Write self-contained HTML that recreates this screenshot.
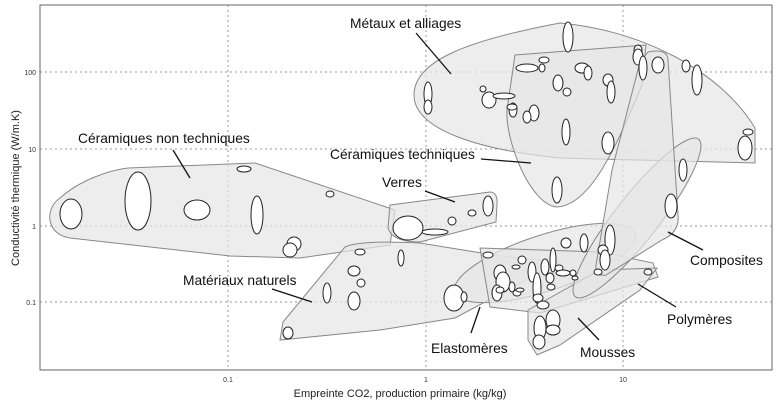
<!DOCTYPE html>
<html><head><meta charset="utf-8"><style>
html,body{margin:0;padding:0;background:#fff;}
svg{display:block;font-family:"Liberation Sans",sans-serif;}
</style></head><body>
<svg width="777" height="406" viewBox="0 0 777 406" xmlns="http://www.w3.org/2000/svg">
<rect x="0" y="0" width="777" height="406" fill="#fff"/>
<g stroke="#999" stroke-dasharray="2,3" stroke-width="1">
<line x1="228" y1="5" x2="228" y2="370"/><line x1="426" y1="5" x2="426" y2="370"/><line x1="623" y1="5" x2="623" y2="370"/>
<line x1="40" y1="72" x2="772" y2="72"/><line x1="40" y1="149" x2="772" y2="149"/><line x1="40" y1="226" x2="772" y2="226"/><line x1="40" y1="302" x2="772" y2="302"/>
</g>
<g fill="#e6e6e6" fill-opacity="0.7" stroke="#888" stroke-width="1">
<path d="M60,198 C80,180 110,170 128,168 L255,163 L395,210 L390,245 L300,258 L230,256 L70,238 C45,234 45,208 60,198 Z"/>
<path d="M280,340 L283,322 L345,247 Q360,240 420,243 L500,256 L560,262 L455,318 L380,330 Z"/>
<path d="M414,95 C414,60 470,40 560,23 C640,30 720,70 755,128 L755,163 L560,158 C480,150 414,130 414,95 Z"/>
<path d="M515,55 L646,45 L642,85 C615,150 590,205 557,207 C530,205 505,140 507,110 Z"/>
<path d="M390,205 L490,192 Q498,192 497,205 L496,222 L420,242 Q392,242 388,228 Z"/>
<ellipse cx="545" cy="263" rx="95" ry="28" transform="rotate(-18 545 263)"/>
<path d="M480,248 L600,252 L653,263 L658,277 L540,313 L490,307 Z"/>
<path d="M528,310 L600,270 L657,268 L640,290 L560,345 L537,355 L528,340 Z"/>
<ellipse cx="637" cy="218" rx="100" ry="22" transform="rotate(-52 637 218)"/>
<path d="M648,52 Q668,48 668,60 L678,215 Q680,232 662,240 L606,275 Q595,277 596,265 L612,170 L640,62 Z"/>
</g>
<g fill="#fff" stroke="#222" stroke-width="1">
<ellipse cx="71" cy="214" rx="11" ry="15"/><ellipse cx="138" cy="201" rx="13" ry="29"/><ellipse cx="197" cy="210" rx="13" ry="10"/><ellipse cx="257" cy="215" rx="6" ry="19"/><ellipse cx="244" cy="169" rx="7" ry="3"/><ellipse cx="330" cy="194" rx="4" ry="3"/><ellipse cx="294" cy="244" rx="7" ry="7"/><ellipse cx="290" cy="250" rx="7" ry="7"/><ellipse cx="360" cy="252" rx="5" ry="3"/><ellipse cx="354" cy="271" rx="6" ry="5"/><ellipse cx="361" cy="283" rx="4" ry="4"/><ellipse cx="327" cy="293" rx="4" ry="10"/><ellipse cx="354" cy="301" rx="6" ry="9"/><ellipse cx="288" cy="333" rx="5" ry="6"/>
<ellipse cx="568" cy="37" rx="5" ry="15"/><ellipse cx="428" cy="94" rx="4" ry="12"/><ellipse cx="428" cy="107" rx="4" ry="7"/><ellipse cx="483" cy="89" rx="3" ry="3"/><ellipse cx="489" cy="100" rx="7" ry="8"/><ellipse cx="504" cy="96" rx="11" ry="3"/><ellipse cx="527" cy="68" rx="11" ry="4"/><ellipse cx="544" cy="60" rx="5" ry="3"/><ellipse cx="542" cy="68" rx="3" ry="4"/><ellipse cx="558" cy="83" rx="5" ry="8"/><ellipse cx="567" cy="92" rx="4" ry="4"/><ellipse cx="513" cy="110" rx="4" ry="7"/><ellipse cx="512" cy="107" rx="5" ry="3"/><ellipse cx="534" cy="113" rx="5" ry="8"/><ellipse cx="527" cy="117" rx="4" ry="6"/><ellipse cx="566" cy="132" rx="4" ry="13"/><ellipse cx="582" cy="68" rx="7" ry="5"/><ellipse cx="588" cy="73" rx="4" ry="7"/><ellipse cx="608" cy="80" rx="5" ry="6"/><ellipse cx="611" cy="92" rx="4" ry="11"/><ellipse cx="638" cy="50" rx="4" ry="5"/><ellipse cx="638" cy="57" rx="5" ry="8"/><ellipse cx="643" cy="68" rx="4" ry="12"/><ellipse cx="658" cy="65" rx="6" ry="8"/><ellipse cx="686" cy="66" rx="4" ry="6"/><ellipse cx="697" cy="80" rx="5" ry="15"/><ellipse cx="748" cy="132" rx="5" ry="3"/><ellipse cx="745" cy="148" rx="7" ry="12"/><ellipse cx="608" cy="143" rx="6" ry="11"/><ellipse cx="557" cy="190" rx="5" ry="13"/><ellipse cx="683" cy="170" rx="4" ry="11"/><ellipse cx="671" cy="206" rx="6" ry="12"/><ellipse cx="488" cy="206" rx="5" ry="10"/><ellipse cx="472" cy="213" rx="4" ry="3"/><ellipse cx="452" cy="221" rx="4" ry="4"/><ellipse cx="408" cy="228" rx="15" ry="12"/><ellipse cx="435" cy="232" rx="13" ry="3"/><ellipse cx="401" cy="258" rx="3" ry="8"/><ellipse cx="488" cy="255" rx="5" ry="3"/><ellipse cx="454" cy="298" rx="10" ry="13"/><ellipse cx="464" cy="297" rx="3" ry="5"/>
<ellipse cx="566" cy="243" rx="5" ry="5"/><ellipse cx="584" cy="243" rx="4" ry="9"/><ellipse cx="610" cy="240" rx="5" ry="15"/><ellipse cx="603" cy="250" rx="5" ry="5"/><ellipse cx="605" cy="260" rx="5" ry="10"/><ellipse cx="598" cy="272" rx="4" ry="3"/><ellipse cx="648" cy="272" rx="4" ry="3"/>
<ellipse cx="540" cy="328" rx="6" ry="12"/><ellipse cx="553" cy="320" rx="7" ry="10"/><ellipse cx="553" cy="330" rx="7" ry="5"/><ellipse cx="539" cy="342" rx="6" ry="7"/>
<ellipse cx="522" cy="260" rx="4" ry="4"/><ellipse cx="516" cy="267" rx="4" ry="2"/><ellipse cx="532" cy="272" rx="4" ry="10"/><ellipse cx="537" cy="288" rx="4" ry="15"/><ellipse cx="545" cy="267" rx="4" ry="8"/><ellipse cx="553" cy="260" rx="3" ry="12"/><ellipse cx="559" cy="268" rx="4" ry="3"/><ellipse cx="563" cy="273" rx="7" ry="3"/><ellipse cx="573" cy="273" rx="3" ry="3"/><ellipse cx="575" cy="278" rx="3" ry="2"/><ellipse cx="550" cy="278" rx="4" ry="5"/><ellipse cx="551" cy="287" rx="4" ry="3"/><ellipse cx="500" cy="273" rx="6" ry="8"/><ellipse cx="503" cy="282" rx="7" ry="10"/><ellipse cx="497" cy="293" rx="5" ry="8"/><ellipse cx="512" cy="287" rx="3" ry="5"/><ellipse cx="517" cy="293" rx="4" ry="3"/><ellipse cx="520" cy="290" rx="4" ry="2"/><ellipse cx="538" cy="298" rx="5" ry="4"/><ellipse cx="543" cy="305" rx="6" ry="4"/><ellipse cx="500" cy="290" rx="4" ry="3"/>
</g>
<g stroke="#111" stroke-width="1.3">
<line x1="416" y1="33" x2="451" y2="74"/><line x1="173" y1="150" x2="190" y2="178"/><line x1="481" y1="159" x2="531" y2="163"/><line x1="425" y1="191" x2="455" y2="202"/><line x1="272" y1="289" x2="312" y2="302"/><line x1="668" y1="232" x2="703" y2="250"/><line x1="638" y1="284" x2="676" y2="307"/><line x1="480" y1="307" x2="471" y2="333"/><line x1="578" y1="318" x2="599" y2="340"/>
</g>
<g font-size="13.8" fill="#111">
<text x="350" y="28">Métaux et alliages</text>
<text x="78" y="143">Céramiques non techniques</text>
<text x="330" y="159">Céramiques techniques</text>
<text x="382" y="187">Verres</text>
<text x="183" y="285">Matériaux naturels</text>
<text x="690" y="265">Composites</text>
<text x="667" y="324">Polymères</text>
<text x="431" y="353">Elastomères</text>
<text x="580" y="357">Mousses</text>
</g>
<rect x="40" y="5" width="732" height="365" fill="none" stroke="#666" stroke-width="1"/>
<g font-size="7" fill="#333">
<text x="36" y="75" text-anchor="end">100</text><text x="36" y="152" text-anchor="end">10</text><text x="36" y="229" text-anchor="end">1</text><text x="36" y="305" text-anchor="end">0.1</text>
<text x="228" y="382" text-anchor="middle">0.1</text><text x="426" y="382" text-anchor="middle">1</text><text x="623" y="382" text-anchor="middle">10</text>
</g>
<text x="400" y="397" font-size="11" fill="#222" text-anchor="middle">Empreinte CO2, production primaire (kg/kg)</text>
<text transform="translate(19,188) rotate(-90)" font-size="11" fill="#222" text-anchor="middle">Conductivité thermique (W/m.K)</text>
</svg>
</body></html>
